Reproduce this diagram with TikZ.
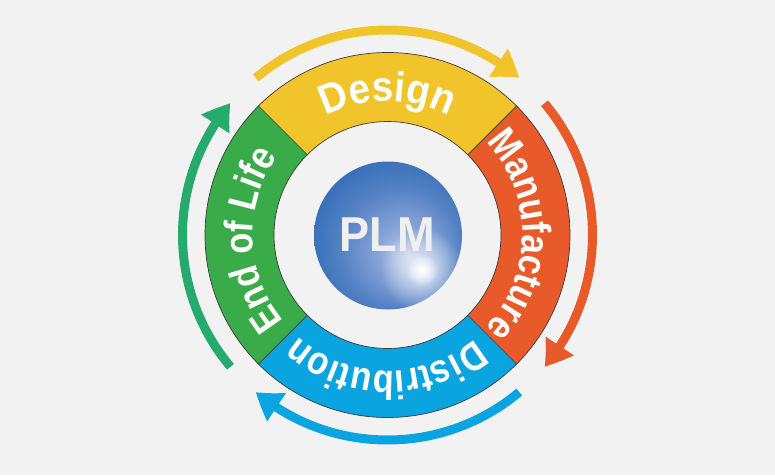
\documentclass[tikz,border=0pt]{standalone}
\usepackage{fontspec}
\setmainfont{Liberation Sans}
\newfontfamily\ringfont{Liberation Sans}[FakeStretch=0.86]
\newfontfamily\designfont{Liberation Sans}[FakeStretch=0.92]
\newfontfamily\plmfont{Liberation Sans}[FakeStretch=0.92]
\usetikzlibrary{arrows.meta,bending,decorations.text,fadings}
\definecolor{bg}{HTML}{F2F2F2}
\definecolor{cyel}{HTML}{F1C42B}
\definecolor{cora}{HTML}{E85A2A}
\definecolor{cblu}{HTML}{0AA4E1}
\definecolor{cgrn}{HTML}{39AB49}
\definecolor{cgra}{HTML}{27AB6C}
\definecolor{edge}{HTML}{3A3A3A}
\definecolor{sphA}{HTML}{BCCBE9}
\definecolor{sphB}{HTML}{88A4D7}
\definecolor{sphC}{HTML}{5582C4}
\definecolor{sphD}{HTML}{2A69B5}
\definecolor{sphE}{HTML}{1562AE}
\definecolor{plmtxt}{HTML}{EFEFEF}
\pgfdeclareradialshading{plmsphere}{\pgfpoint{7bp}{-7bp}}{color(0bp)=(sphA); color(9bp)=(sphB); color(20bp)=(sphC); color(33bp)=(sphD); color(45bp)=(sphE); color(50bp)=(sphE)}
\tikzfading[name=glowfade, inner color=transparent!0, outer color=transparent!100]
\begin{document}
\begin{tikzpicture}[x=1pt,y=1pt,
  cyc/.style={line width=9pt, draw=#1, -{Triangle[length=26pt,width=32pt,bend]}},
  ringline/.style={draw=edge, line width=0.7pt},
  ringtext/.style={decorate, decoration={text along path, text={#1}, text align=center, text color=white}},
]
\useasboundingbox (0,0) rectangle (775,475);
\fill[bg] (0,0) rectangle (775,475);
\begin{scope}[shift={(387.5,240)}]
  % ring segments
  \fill[cyel] (45:182.5) arc[start angle=45,end angle=135,radius=182.5] -- (135:113.5) arc[start angle=135,end angle=45,radius=113.5] -- cycle;
  \fill[cora] (-45:182.5) arc[start angle=-45,end angle=45,radius=182.5] -- (45:113.5) arc[start angle=45,end angle=-45,radius=113.5] -- cycle;
  \fill[cblu] (-135:182.5) arc[start angle=-135,end angle=-45,radius=182.5] -- (-45:113.5) arc[start angle=-45,end angle=-135,radius=113.5] -- cycle;
  \fill[cgrn] (135:182.5) arc[start angle=135,end angle=225,radius=182.5] -- (225:113.5) arc[start angle=225,end angle=135,radius=113.5] -- cycle;
  \draw[ringline] (0,0) circle (182.5);
  \draw[ringline] (0,0) circle (113.5);
  \foreach \a in {45,135,225,315} \draw[ringline] (\a:113.5) -- (\a:182.5);
  % cycle arrows
  \draw[cyc=cyel] (130:205) arc[start angle=130,end angle=50,radius=205];
  \draw[cyc=cora] (40:205) arc[start angle=40,end angle=-40,radius=205];
  \draw[cyc=cblu] (-50:205) arc[start angle=-50,end angle=-130,radius=205];
  \draw[cyc=cgra] (220:205) arc[start angle=220,end angle=140,radius=205];
  % ring labels
  \path[ringtext={|\designfont\bfseries\fontsize{42}{42}\selectfont|Design}] (132:134) arc[start angle=132,end angle=48,radius=134];
  \path[ringtext={|\ringfont\bfseries\fontsize{40}{40}\selectfont|Manufacture}] (44.5:135) arc[start angle=44.5,end angle=-44.5,radius=135];
  \path[ringtext={|\ringfont\bfseries\fontsize{40}{40}\selectfont|Distribution}] (-44.5:136) arc[start angle=-44.5,end angle=-137,radius=136];
  \path[ringtext={|\ringfont\bfseries\fontsize{40}{40}\selectfont|End of Life}] (224:135) arc[start angle=224,end angle=140,radius=135];
  % sphere
  \shade[shading=plmsphere] (0.5,-0.5) circle (74);
  \begin{scope}
    \clip (0.5,-0.5) circle (74);
    \fill[white, opacity=0.8, path fading=glowfade] (34.5,-35) circle (42);
    \fill[white, path fading=glowfade] (34.5,-35) circle (16);
  \end{scope}
  \node[inner sep=0pt, text=plmtxt, font=\plmfont\bfseries\fontsize{49}{49}\selectfont] (plm) at (0,0.5) {PLM};
\end{scope}
\end{tikzpicture}
\end{document}
